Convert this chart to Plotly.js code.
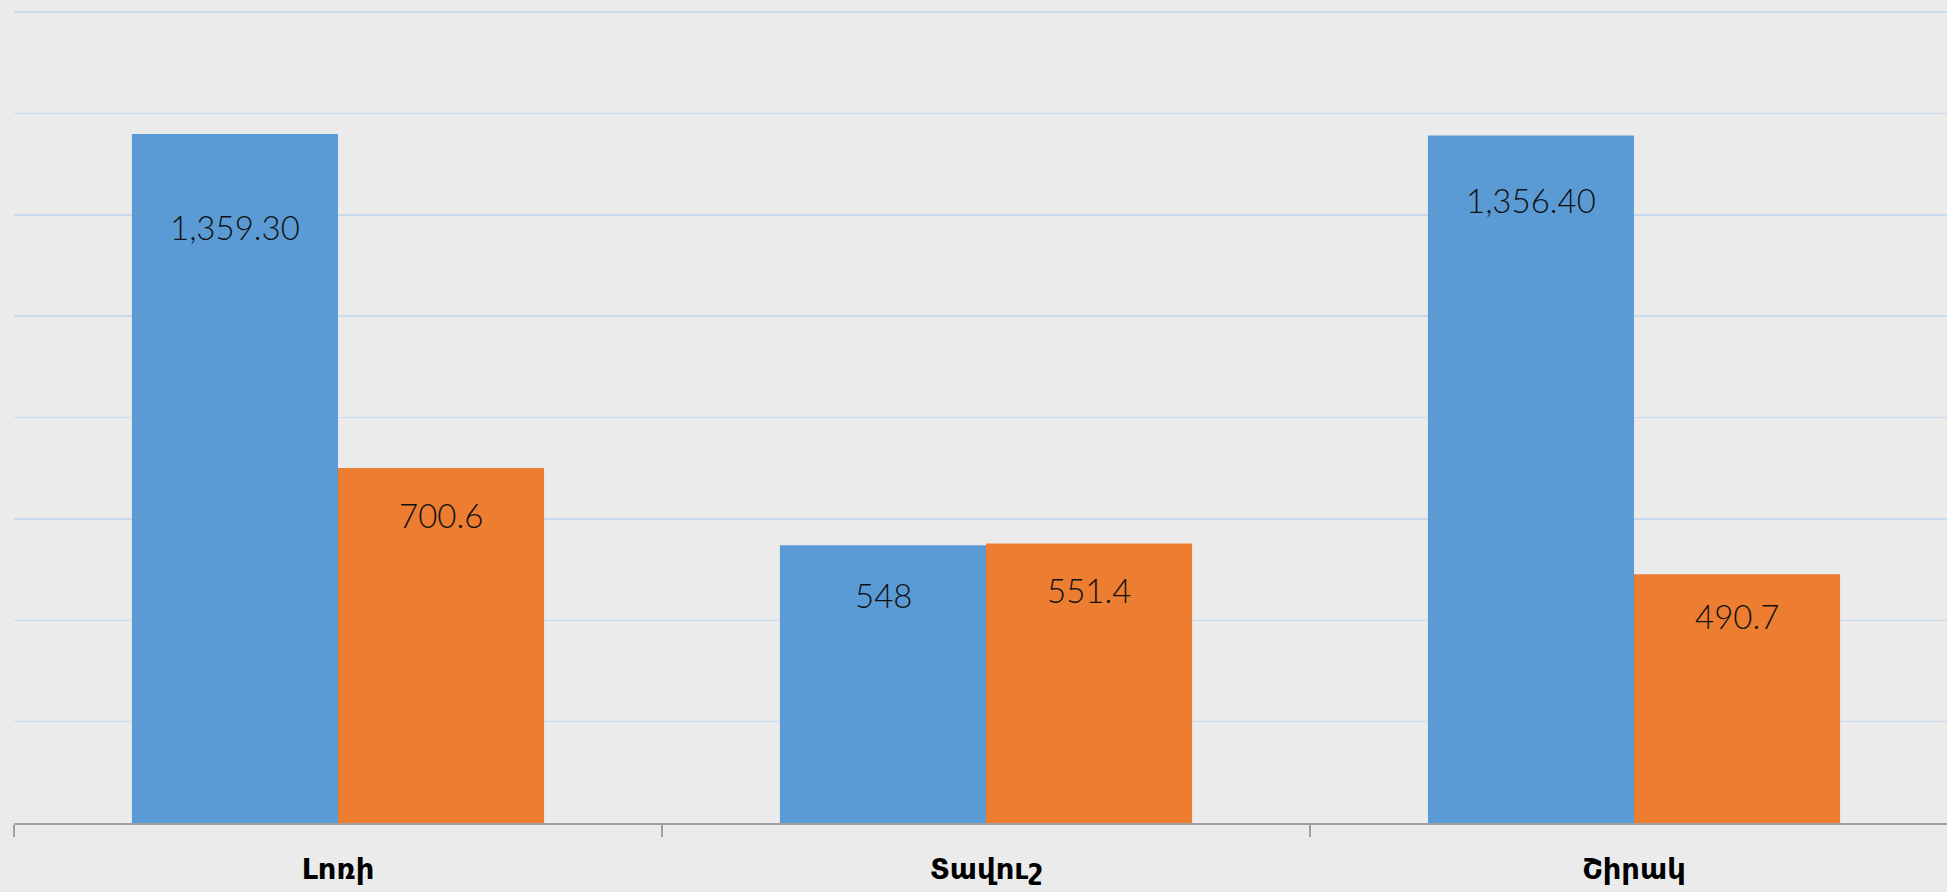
<!DOCTYPE html>
<html>
<head>
<meta charset="utf-8">
<script src="https://cdn.plot.ly/plotly-3.0.1.min.js"></script>
<style>
  html, body { margin: 0; padding: 0; background: #ebebeb; }
  #chart { width: 1947px; height: 892px; }
</style>
</head>
<body>
<div id="chart"></div>
<script>
// ---- data ----
const categories = ["Լոռի", "Տավուշ", "Շիրակ"];
const seriesA = [1359.3, 548, 1356.4];
const seriesB = [700.6, 551.4, 490.7];
const labelsA = ["1,359.30", "548", "1,356.40"];
const labelsB = ["700.6", "551.4", "490.7"];
const yTicks = [0, 200, 400, 600, 800, 1000, 1200, 1400, 1600];

// ---- label placement (style, px below bar top) ----
const dropA = [93, 50, 64];
const dropB = [47, 46, 42];

const blue = "#5b9bd5";
const orange = "#ed7d31";

const traces = [
  { type: "bar", x: categories, y: seriesA, marker: { color: blue, line: { width: 0 } }, hoverinfo: "none" },
  { type: "bar", x: categories, y: seriesB, marker: { color: orange, line: { width: 0 } }, hoverinfo: "none" }
];

const annFont = { family: "Lato, 'Open Sans', sans-serif", size: 33, color: "#111111", weight: 300 };
const annotations = [];
categories.forEach((c, i) => {
  annotations.push({ x: c, y: seriesA[i], xref: "x", yref: "y", text: labelsA[i], showarrow: false,
    xshift: -103, yshift: -dropA[i], yanchor: "middle", xanchor: "center", font: annFont });
  annotations.push({ x: c, y: seriesB[i], xref: "x", yref: "y", text: labelsB[i], showarrow: false,
    xshift: 103, yshift: -dropB[i], yanchor: "middle", xanchor: "center", font: annFont });
});

const layout = {
  width: 1947, height: 892,
  margin: { l: 14, r: 0, t: 7, b: 69, pad: 0 },
  paper_bgcolor: "#ebebeb",
  plot_bgcolor: "rgba(0,0,0,0)",
  barmode: "group",
  bargap: 0.364,
  bargroupgap: 0,
  showlegend: false,
  xaxis: {
    type: "category",
    range: [-0.5, 2.483],
    tickson: "boundaries",
    ticks: "outside",
    ticklen: 12,
    tickwidth: 1.5,
    tickcolor: "#a0a0a0",
    showline: true,
    linecolor: "#a0a0a0",
    linewidth: 2,
    showgrid: false,
    zeroline: false,
    ticklabelstandoff: 19,
    tickfont: { family: "'DejaVu Sans', sans-serif", size: 29, color: "#000000", weight: 700 }
  },
  yaxis: {
    range: [0, 1610],
    tickvals: yTicks,
    showticklabels: false,
    showgrid: true,
    gridcolor: "#c6daf0",
    gridwidth: 1.5,
    zeroline: false,
    showline: false,
    ticks: ""
  },
  annotations: annotations
};

Plotly.newPlot("chart", traces, layout, { displayModeBar: false, staticPlot: true });
</script>
</body>
</html>
